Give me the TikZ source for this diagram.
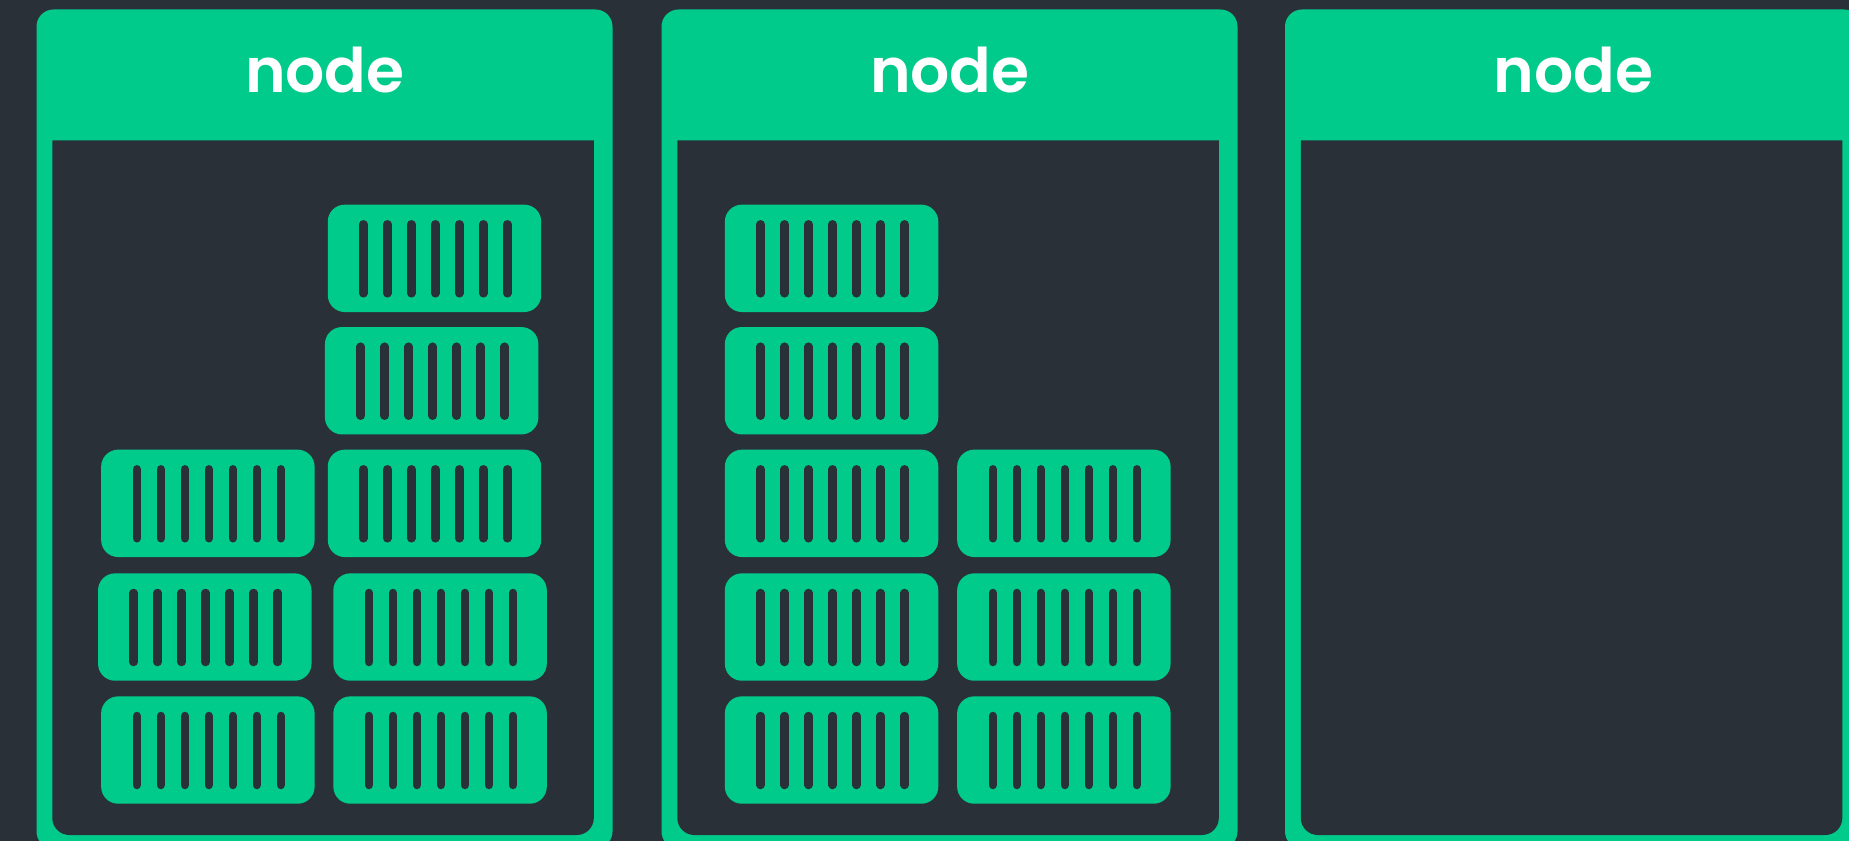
\documentclass[tikz,border=0pt]{standalone}
\usepackage{fontspec}
\setmainfont{Poppins}[BoldFont={Poppins SemiBold}]

\definecolor{bgdark}{HTML}{2A3038}
\definecolor{kubegreen}{HTML}{00CB8B}

\tikzset{
	titlelabel/.style={text=white, anchor=base, inner sep=0, font=\fontsize{35}{36}\selectfont\bfseries},
	podbox/.style={fill=kubegreen, rounded corners=0.34cm, anchor=north west, inner sep=0, minimum width=4.27cm, minimum height=2.148cm},
	podslot/.style={draw=bgdark, line width=0.17cm, line cap=round}
}

% pod name, left edge, top edge
\newcommand{\pod}[3]{
	\begin{scope}[shift={(#2,#3)}]
		\node [podbox] (#1) at (0,0) {};
		\foreach \s in {0,...,6}
			\draw [podslot] (36+24*\s,20) -- (36+24*\s,89);
	\end{scope}
}

\begin{document}
\begin{tikzpicture}[x=0.02cm, y=-0.02cm]
		\useasboundingbox (0,0) rectangle (1849,841);
		\fill [bgdark] (0,0) rectangle (1849,841);
		\clip (0,0) rectangle (1849,841);

		\foreach \px/\pname in {36.5/one, 661.5/two, 1285/three} {
			\fill [kubegreen, rounded corners=0.34cm] (\px,9.5) rectangle ++(576,839);
			\fill [bgdark] (\px+15.8,140.3) [rounded corners=0.34cm] -- (\px+15.8,835) -- (\px+557.3,835) [sharp corners] -- (\px+557.3,140.3) -- cycle;
			\node [titlelabel] (title-\pname) at (\px+288.3,92.3) {node};
		}

		% first node
		\pod{a1}{100.8}{696}
		\pod{a2}{97.7}{573}
		\pod{a3}{100.8}{449.3}
		\pod{a4}{333}{696}
		\pod{a5}{333}{573}
		\pod{a6}{327.4}{449.3}
		\pod{a7}{324.6}{326.7}
		\pod{a8}{327.4}{204.3}

		% second node
		\pod{b1}{724.5}{696}
		\pod{b2}{724.5}{573}
		\pod{b3}{724.5}{449.3}
		\pod{b4}{724.5}{326.7}
		\pod{b5}{724.5}{204.3}
		\pod{b6}{956.8}{696}
		\pod{b7}{956.8}{573}
		\pod{b8}{956.8}{449.3}
	\end{tikzpicture}
\end{document}
